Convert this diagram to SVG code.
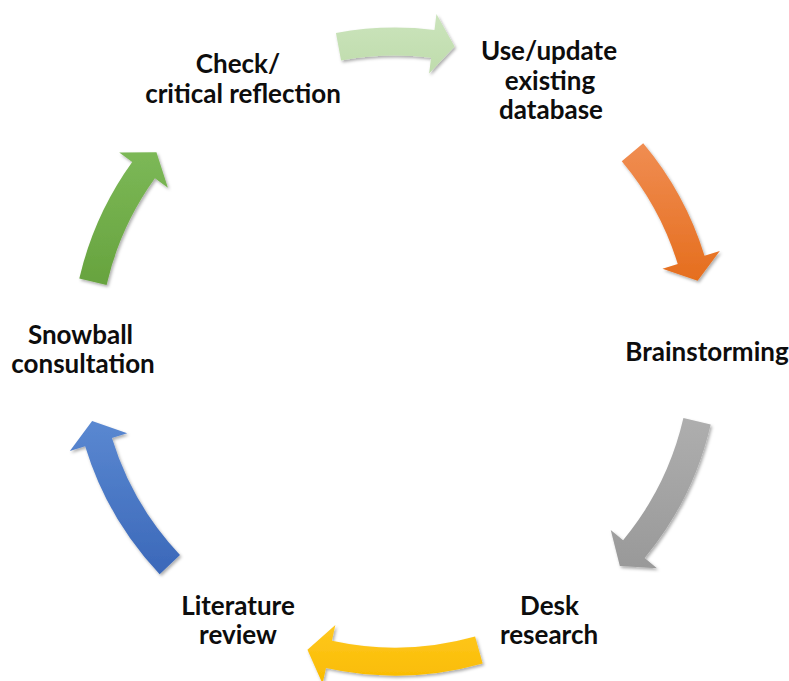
<svg xmlns="http://www.w3.org/2000/svg" width="789" height="681" viewBox="0 0 789 681">
  <style>
    .label { font-family: Lato, "Open Sans", "Liberation Sans", sans-serif; font-weight: 700; font-size: 26px; fill: #0d0d0d; text-anchor: middle; }
    .arrow { filter: url(#soft-shadow); }
  </style>
  <defs>
    <filter id="soft-shadow" x="-20%" y="-20%" width="140%" height="140%">
      <feDropShadow dx="1.5" dy="2" stdDeviation="1.8" flood-color="#000" flood-opacity="0.32"/>
    </filter>
    <linearGradient id="g-lightgreen" x1="0" y1="0" x2="0" y2="1">
      <stop offset="0" stop-color="#cbe4bc"/>
      <stop offset="1" stop-color="#bfdcac"/>
    </linearGradient>
    <linearGradient id="g-orange" x1="0" y1="0" x2="0" y2="1">
      <stop offset="0" stop-color="#f08d52"/>
      <stop offset="1" stop-color="#e56e1e"/>
    </linearGradient>
    <linearGradient id="g-gray" x1="0" y1="0" x2="0" y2="1">
      <stop offset="0" stop-color="#aeaeae"/>
      <stop offset="1" stop-color="#999999"/>
    </linearGradient>
    <linearGradient id="g-yellow" x1="0" y1="0" x2="0" y2="1">
      <stop offset="0" stop-color="#ffc820"/>
      <stop offset="1" stop-color="#f9bb00"/>
    </linearGradient>
    <linearGradient id="g-blue" x1="0" y1="0" x2="0" y2="1">
      <stop offset="0" stop-color="#5a88d1"/>
      <stop offset="1" stop-color="#3b68b9"/>
    </linearGradient>
    <linearGradient id="g-green" x1="0" y1="0" x2="0" y2="1">
      <stop offset="0" stop-color="#7cb857"/>
      <stop offset="1" stop-color="#67a33e"/>
    </linearGradient>
  </defs>

  <rect width="789" height="681" fill="#ffffff"/>

  <!-- curved cycle arrows around a circle centred at (395, 351.5), r = 310 -->
  <g id="connectors">
    <path id="arrow-check-to-database" class="arrow" fill="url(#g-lightgreen)"
      d="M341.06,60.46 L335.95,32.93 A324,324 0 0 1 434.49,29.91 L436.44,14.03 L454.62,46.49 L429.12,73.59 L431.07,57.71 A296,296 0 0 0 341.06,60.46 Z"/>
    <path id="arrow-database-to-brainstorming" class="arrow" fill="url(#g-orange)"
      d="M621.75,161.23 L643.20,143.24 A324,324 0 0 1 704.51,255.69 L719.80,250.96 L697.65,280.85 L662.48,268.70 L677.76,263.97 A296,296 0 0 0 621.75,161.23 Z"/>
    <path id="arrow-brainstorming-to-desk" class="arrow" fill="url(#g-gray)"
      d="M683.41,418.09 L710.70,424.38 A324,324 0 0 1 644.65,558.02 L656.97,568.22 L619.84,566.05 L610.74,529.98 L623.07,540.18 A296,296 0 0 0 683.41,418.09 Z"/>
    <path id="arrow-desk-to-literature" class="arrow" fill="url(#g-yellow)"
      d="M475.10,636.46 L482.67,663.41 A324,324 0 0 1 325.98,668.06 L322.57,683.70 L307.46,649.70 L335.35,625.07 L331.94,640.71 A296,296 0 0 0 475.10,636.46 Z"/>
    <path id="arrow-literature-to-snowball" class="arrow" fill="url(#g-blue)"
      d="M179.99,554.94 L159.66,574.19 A324,324 0 0 1 85.16,446.23 L69.86,450.91 L92.12,421.09 L127.24,433.36 L111.94,438.04 A296,296 0 0 0 179.99,554.94 Z"/>
    <path id="arrow-snowball-to-check" class="arrow" fill="url(#g-green)"
      d="M106.59,284.91 L79.30,278.62 A324,324 0 0 1 132.22,161.97 L119.24,152.61 L156.44,152.32 L167.90,187.71 L154.93,178.35 A296,296 0 0 0 106.59,284.91 Z"/>
  </g>

  <g id="node-database">
    <text class="label" x="549" y="60">Use/update</text>
    <text class="label" x="550" y="89.5">existing</text>
    <text class="label" x="551" y="119">database</text>
  </g>
  <g id="node-brainstorming">
    <text class="label" x="707" y="361">Brainstorming</text>
  </g>
  <g id="node-desk-research">
    <text class="label" x="549.5" y="614.5">Desk</text>
    <text class="label" x="549" y="644">research</text>
  </g>
  <g id="node-literature-review">
    <text class="label" x="238" y="614.5">Literature</text>
    <text class="label" x="238" y="644">review</text>
  </g>
  <g id="node-snowball">
    <text class="label" x="80.5" y="344">Snowball</text>
    <text class="label" x="83" y="373">consultation</text>
  </g>
  <g id="node-check">
    <text class="label" x="238" y="73">Check/</text>
    <text class="label" x="243" y="102.5">critical reflection</text>
  </g>
</svg>
